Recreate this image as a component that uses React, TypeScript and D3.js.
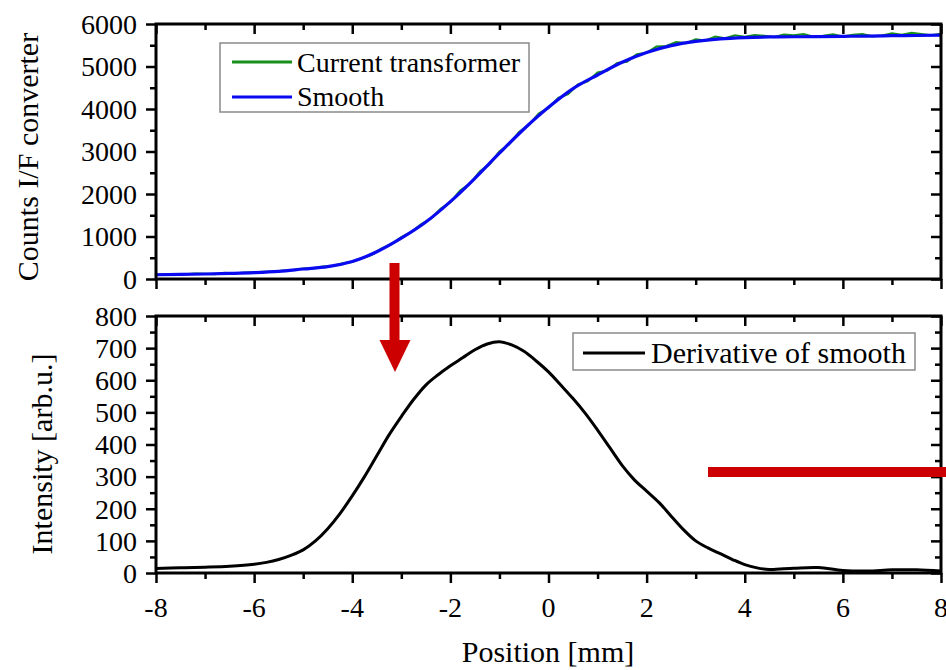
import React, {useEffect, useRef} from 'react';
import * as d3 from 'd3';

const W = 946;
const H = 670;
const FONT = 'Liberation Serif, Times New Roman, serif';

// top panel: raw signal of the current transformer (hand)
const rawPosition = [
    -8.0, -7.8, -7.6, -7.4, -7.2, -7.0, -6.8, -6.6, -6.4, -6.2,
    -6.0, -5.8, -5.6, -5.4, -5.2, -5.0, -4.8, -4.6, -4.4, -4.2,
    -4.0, -3.8, -3.6, -3.4, -3.2, -3.0, -2.8, -2.6, -2.4, -2.2,
    -2.0, -1.8, -1.6, -1.4, -1.2, -1.0, -0.8, -0.6, -0.4, -0.2,
    0.0, 0.2, 0.4, 0.6, 0.8, 1.0, 1.2, 1.4, 1.6, 1.8,
    2.0, 2.2, 2.4, 2.6, 2.8, 3.0, 3.2, 3.4, 3.6, 3.8,
    4.0, 4.2, 4.4, 4.6, 4.8, 5.0, 5.2, 5.4, 5.6, 5.8,
    6.0, 6.2, 6.4, 6.6, 6.8, 7.0, 7.2, 7.4, 7.6, 7.8, 8.0
];
const rawCounts = [
    95, 118, 104, 112, 126, 120, 112, 142, 130, 148,
    156, 168, 170, 196, 212, 244, 252, 290, 306, 370,
    404, 492, 572, 716, 822, 982, 1100, 1284, 1418, 1652,
    1808, 2078, 2242, 2530, 2702, 3000, 3172, 3460, 3625, 3892,
    4022, 4262, 4350, 4578, 4652, 4858, 4905, 5082, 5112, 5290,
    5322, 5470, 5480, 5575, 5548, 5640, 5610, 5705, 5662, 5735,
    5700, 5740, 5720, 5690, 5750, 5735, 5760, 5700, 5720, 5755,
    5705, 5745, 5760, 5710, 5730, 5780, 5745, 5790, 5760, 5735, 5770
];

// top panel: smoothed signal
const smoothPosition = [
    -8, -7.5, -7, -6.5, -6, -5.5, -5, -4.5, -4, -3.5, -3, -2.5, -2, -1.5, -1, -0.5,
    0, 0.5, 1, 1.5, 2, 2.5, 3, 3.5, 4, 4.5, 5, 5.5, 6, 6.5, 7, 7.5, 8
];
const smoothCounts = [
    100, 108, 118, 132, 150, 180, 235, 290, 410, 640, 960, 1340, 1820, 2370, 2960, 3530,
    4040, 4480, 4800, 5100, 5330, 5490, 5590, 5650, 5680, 5695, 5700, 5705, 5710, 5715, 5725, 5730, 5740
];

// bottom panel: derivative of the smoothed signal
const derivPosition = [
    -8, -7.5, -7, -6.5, -6, -5.75, -5.5, -5.25, -5, -4.75, -4.5, -4.25, -4, -3.75, -3.5, -3.25, -3,
    -2.75, -2.5, -2.25, -2, -1.75, -1.5, -1.25, -1, -0.75, -0.5, -0.25, 0, 0.25, 0.5, 0.75, 1,
    1.25, 1.5, 1.75, 2, 2.25, 2.5, 2.75, 3, 3.25, 3.5, 3.75, 4, 4.25, 4.5, 5, 5.5, 6, 6.5, 7, 7.5, 8
];
const derivative = [
    14, 16, 18, 21, 27, 33, 42, 55, 72, 100, 138, 185, 240, 300, 365, 430, 487,
    540, 585, 617, 645, 670, 695, 713, 720, 710, 690, 660, 626, 585, 543, 497, 445,
    390, 335, 290, 255, 220, 177, 135, 100, 78, 60, 42, 26, 16, 11, 15, 17, 8, 6, 10, 10, 6
];

const xMajor = [-8, -6, -4, -2, 0, 2, 4, 6, 8];
const xMinor = [-7, -5, -3, -1, 1, 3, 5, 7];
const countsMajor = [0, 1000, 2000, 3000, 4000, 5000, 6000];
const countsMinor = [500, 1500, 2500, 3500, 4500, 5500];
const intensityMajor = [0, 100, 200, 300, 400, 500, 600, 700, 800];
const intensityMinor = [50, 150, 250, 350, 450, 550, 650, 750];

const plotLeft = 156;
const plotRight = 941;
const top = {y0: 24, y1: 279};
const bot = {y0: 316, y1: 573};

function App() {
    const axesRef = useRef<SVGGElement>(null);

    const x = d3.scaleLinear().domain([-8, 8]).range([plotLeft, plotRight]);
    const yTop = d3.scaleLinear().domain([0, 6000]).range([top.y1, top.y0]);
    const yBot = d3.scaleLinear().domain([0, 800]).range([bot.y1, bot.y0]);

    const rawLine = d3.line<number>()
        .x((d, i) => x(rawPosition[i]))
        .y(d => yTop(d));
    const smoothLine = d3.line<number>()
        .x((d, i) => x(smoothPosition[i]))
        .y(d => yTop(d))
        .curve(d3.curveMonotoneX);
    const derivLine = d3.line<number>()
        .x((d, i) => x(derivPosition[i]))
        .y(d => yBot(d))
        .curve(d3.curveCatmullRom.alpha(0.5));

    useEffect(() => {
        const g = d3.select(axesRef.current);
        g.selectAll('*').remove();

        const style = (sel: any) => {
            sel.select('.domain').remove();
            sel.selectAll('line').attr('stroke', '#000').attr('stroke-width', 2.5);
        };
        const noLabel = () => '';

        const panels = [
            {y: yTop, p: top, major: countsMajor, minor: countsMinor},
            {y: yBot, p: bot, major: intensityMajor, minor: intensityMinor},
        ];

        // ticks only: outward on bottom/left, inward on the mirrored top/right
        panels.forEach(({y, p, major, minor}) => {
            const add = (axis: any, tx: number, ty: number) =>
                g.append('g').attr('transform', `translate(${tx},${ty})`).call(axis).call(style);

            add(d3.axisBottom(x).tickValues(xMajor).tickSize(10).tickFormat(noLabel), 0, p.y1);
            add(d3.axisBottom(x).tickValues(xMinor).tickSize(6).tickFormat(noLabel), 0, p.y1);
            add(d3.axisBottom(x).tickValues(xMajor).tickSize(10).tickFormat(noLabel), 0, p.y0);
            add(d3.axisBottom(x).tickValues(xMinor).tickSize(6).tickFormat(noLabel), 0, p.y0);
            add(d3.axisLeft(y).tickValues(major).tickSize(10).tickFormat(noLabel), plotLeft, 0);
            add(d3.axisLeft(y).tickValues(minor).tickSize(6).tickFormat(noLabel), plotLeft, 0);
            add(d3.axisLeft(y).tickValues(major).tickSize(10).tickFormat(noLabel), plotRight, 0);
            add(d3.axisLeft(y).tickValues(minor).tickSize(6).tickFormat(noLabel), plotRight, 0);
        });
    }, []);

    return (
        <svg width={W} height={H} viewBox={`0 0 ${W} ${H}`}
             style={{position: 'absolute', left: 0, top: 0, background: '#fff'}}>
            <defs>
                <clipPath id="clip-top">
                    <rect x={plotLeft} y={top.y0} width={plotRight - plotLeft} height={top.y1 - top.y0}/>
                </clipPath>
                <clipPath id="clip-bot">
                    <rect x={plotLeft} y={bot.y0} width={plotRight - plotLeft} height={bot.y1 - bot.y0}/>
                </clipPath>
            </defs>

            <g clipPath="url(#clip-top)">
                <path d={rawLine(rawCounts) || ''} fill="none" stroke="#16901a" strokeWidth={2.2}/>
                <path d={smoothLine(smoothCounts) || ''} fill="none" stroke="#0a0af0" strokeWidth={3.2}/>
            </g>
            <g clipPath="url(#clip-bot)">
                <path d={derivLine(derivative) || ''} fill="none" stroke="#000" strokeWidth={3}/>
            </g>

            <g ref={axesRef}/>

            <rect x={plotLeft} y={top.y0} width={plotRight - plotLeft} height={top.y1 - top.y0}
                  fill="none" stroke="#000" strokeWidth={3}/>
            <rect x={plotLeft} y={bot.y0} width={plotRight - plotLeft} height={bot.y1 - bot.y0}
                  fill="none" stroke="#000" strokeWidth={3}/>

            {/* tick labels */}
            <g fontFamily={FONT} fontSize={28} fill="#000">
                {countsMajor.map(v => (
                    <text key={'c' + v} x={137} y={yTop(v)} dy="0.35em" textAnchor="end">{v}</text>
                ))}
                {intensityMajor.map(v => (
                    <text key={'i' + v} x={137} y={yBot(v)} dy="0.35em" textAnchor="end">{v}</text>
                ))}
                {xMajor.map(v => (
                    <text key={'x' + v} x={x(v)} y={617} textAnchor="middle">{String(v)}</text>
                ))}
            </g>

            {/* legend, top panel */}
            <g fontFamily={FONT} fontSize={28} fill="#000">
                <rect x={220} y={43} width={309} height={69} fill="#fff" stroke="#8a8a8a" strokeWidth={1.5}/>
                <line x1={232} x2={292} y1={62} y2={62} stroke="#16901a" strokeWidth={3}/>
                <text x={297} y={72}>Current transformer</text>
                <line x1={232} x2={292} y1={97} y2={97} stroke="#0a0af0" strokeWidth={3}/>
                <text x={297} y={106}>Smooth</text>
            </g>

            {/* legend, bottom panel */}
            <g fontFamily={FONT} fontSize={30} fill="#000">
                <rect x={573} y={333} width={342} height={37} fill="#fff" stroke="#8a8a8a" strokeWidth={1.5}/>
                <line x1={583} x2={645} y1={353} y2={353} stroke="#000" strokeWidth={3}/>
                <text x={651} y={363}>Derivative of smooth</text>
            </g>

            {/* axis titles */}
            <g fontFamily={FONT} fontSize={30} fill="#000" textAnchor="middle">
                <text transform="translate(38,157) rotate(-90)">Counts I/F converter</text>
                <text transform="translate(52,454) rotate(-90)">Intensity [arb.u.]</text>
                <text x={548} y={662}>Position [mm]</text>
            </g>

            {/* red annotations */}
            <rect x={389.5} y={263} width={10} height={78} fill="#cc0000"/>
            <path d="M379.5,340 L410.5,340 L395,372 Z" fill="#cc0000"/>
            <rect x={708} y={467} width={238} height={10} fill="#cc0000"/>
        </svg>
    );
}

export default App;
